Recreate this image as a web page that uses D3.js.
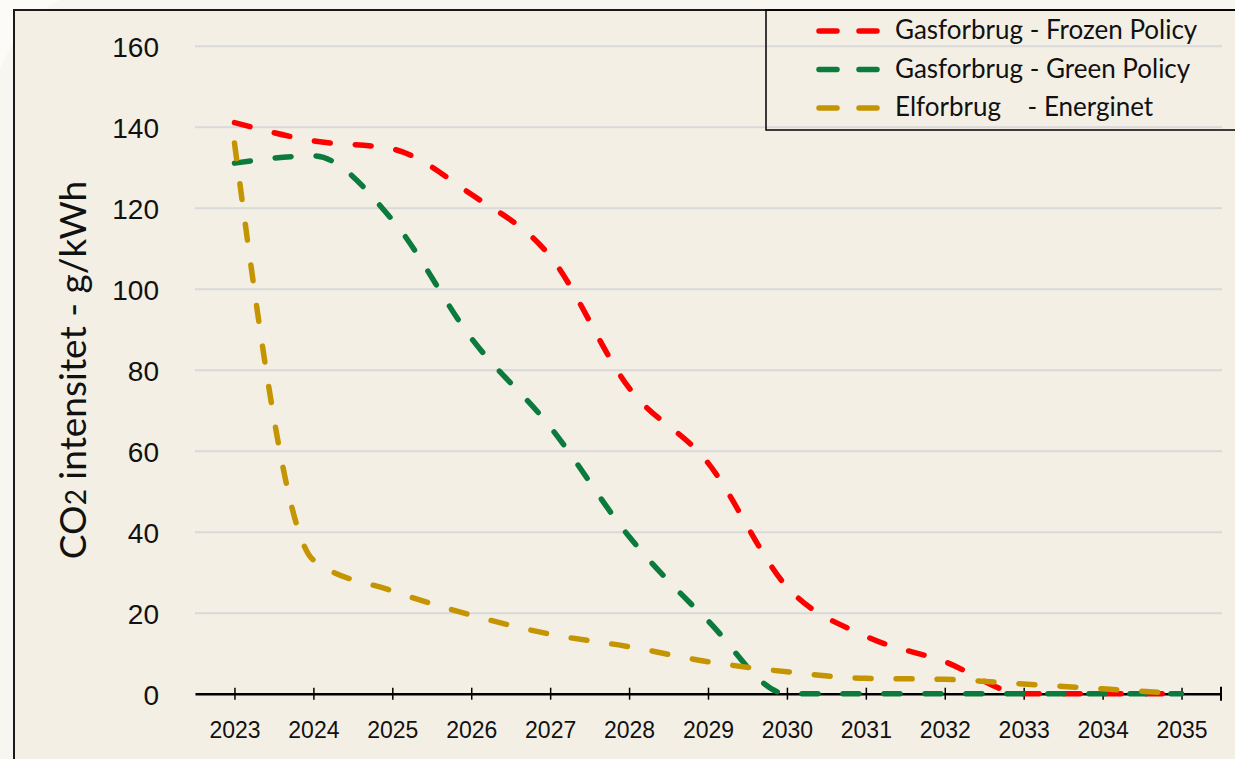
<!DOCTYPE html>
<html>
  <head>
    <meta charset="utf-8">
    <script src="https://cdn.jsdelivr.net/npm/d3@7"></script>
    <style>
      body { margin: 0; background: #f8f6f0; }
      svg { display: block; font-family: Lato, "Open Sans", sans-serif; }
    </style>
  </head>
  <body>
    <svg width="1235" height="759"></svg>
    <script>

        // Data
        var years = ["2023", "2024", "2025", "2026", "2027", "2028", "2029",
                     "2030", "2031", "2032", "2033", "2034", "2035"];
        var frozenPolicy = [141, 136.5, 134.5, 123.3, 108, 75.5, 57, 26.4, 14.2, 7.9, 0, 0, 0];
        var greenPolicy = [131, 132.8, 117, 87.8, 65.9, 38.8, 18, 0, 0, 0, 0, 0, 0];
        var elforbrug = [136, 33, 25.4, 19.4, 14.7, 11.6, 7.9, 5.4, 3.8, 3.55, 2.4, 1.2, 0];
        var yTicks = [0, 20, 40, 60, 80, 100, 120, 140, 160];
        var seriesNames = ["Gasforbrug - Frozen Policy", "Gasforbrug - Green Policy", "Elforbrug    - Energinet"];
        var seriesColors = ["#ff0000", "#0b7b3d", "#c49500"];

        var svg = d3.select("svg");

        // page background with a light swoosh in the corner
        svg.append("path")
          .attr("d", "M0,0 L60,0 Q20,20 0,70 Z")
          .attr("fill", "#fcfbf8");

        // outer frame
        svg.append("rect")
          .attr("x", 14)
          .attr("y", 10)
          .attr("width", 1300)
          .attr("height", 800)
          .attr("fill", "#f3efe5")
          .attr("stroke", "#1a1a1a")
          .attr("stroke-width", 2);

        var plotLeft = 195, plotRight = 1221, plotTop = 45.7, plotBottom = 693.7;

        var xScale = d3.scalePoint()
          .domain(years)
          .range([plotLeft, plotRight])
          .padding(0.5);

        var yScale = d3.scaleLinear()
          .domain([0, 160])
          .range([plotBottom, plotTop]);

        // Gridlines + y labels
        var yAxis = svg.append("g")
          .attr("class", "y axis")
          .attr("transform", "translate(" + plotLeft + ",0)")
          .call(d3.axisLeft(yScale).tickValues(yTicks).tickSize(-(plotRight - plotLeft + 1)).tickPadding(36));
        yAxis.select(".domain").remove();
        yAxis.selectAll("line")
          .attr("stroke", "#d9d9d9")
          .attr("stroke-width", 2);
        yAxis.selectAll("text")
          .attr("fill", "#111")
          .attr("dy", 11)
          .style("font-size", "28px");

        // X axis
        var xAxis = svg.append("g")
          .attr("class", "x axis")
          .attr("transform", "translate(0," + plotBottom + ")")
          .call(d3.axisBottom(xScale).tickSizeOuter(0).tickPadding(22));
        xAxis.select(".domain")
          .attr("stroke", "#000")
          .attr("stroke-width", 2.5);
        xAxis.selectAll(".tick line")
          .attr("y1", -6)
          .attr("y2", 6)
          .attr("stroke", "#000")
          .attr("stroke-width", 1.5);
        xAxis.append("line")
          .attr("x1", xScale.range()[1])
          .attr("x2", xScale.range()[1])
          .attr("y1", -7)
          .attr("y2", 7)
          .attr("stroke", "#000")
          .attr("stroke-width", 2);
        xAxis.selectAll("text")
          .attr("fill", "#111")
          .style("font-size", "23px");

        // Y axis title
        var title = svg.append("text")
          .attr("transform", "translate(86,370) rotate(-90)")
          .attr("text-anchor", "middle")
          .attr("fill", "#111")
          .style("font-size", "37px");
        title.append("tspan").text("CO");
        title.append("tspan").style("font-size", "28px").text("2");
        title.append("tspan").text(" intensitet - g/kWh");

        // Lines (smoothed like the original)
        var allSeries = [frozenPolicy, greenPolicy, elforbrug];
        var line = d3.line()
          .x(function(d, i) { return xScale(years[i]); })
          .y(function(d) { return yScale(d); })
          .curve(d3.curveMonotoneX);

        svg.selectAll(".series")
          .data(allSeries)
          .enter()
          .append("path")
          .attr("class", "series")
          .attr("d", line)
          .attr("fill", "none")
          .attr("stroke", function(d, i) { return seriesColors[i]; })
          .attr("stroke-width", 5.5)
          .attr("stroke-linecap", "round")
          .attr("stroke-dasharray", "16 25");

        // Legend
        svg.append("rect")
          .attr("x", 766)
          .attr("y", 10)
          .attr("width", 500)
          .attr("height", 120)
          .attr("fill", "none")
          .attr("stroke", "#000")
          .attr("stroke-width", 1.5);

        var legend = svg.selectAll(".legend")
          .data(seriesNames)
          .enter()
          .append("g")
          .attr("class", "legend")
          .attr("transform", function(d, i) { return "translate(817," + (31 + i * 38.5) + ")"; });

        legend.append("line")
          .attr("x1", 2)
          .attr("x2", 63)
          .attr("y1", 0)
          .attr("y2", 0)
          .attr("stroke", function(d, i) { return seriesColors[i]; })
          .attr("stroke-width", 5.5)
          .attr("stroke-linecap", "round")
          .attr("stroke-dasharray", "18 22");

        legend.append("text")
          .attr("x", 78)
          .attr("y", 8)
          .attr("fill", "#111")
          .style("font-size", "26px")
          .style("white-space", "pre")
          .text(function(d) { return d; });

    </script>
  </body>
</html>
